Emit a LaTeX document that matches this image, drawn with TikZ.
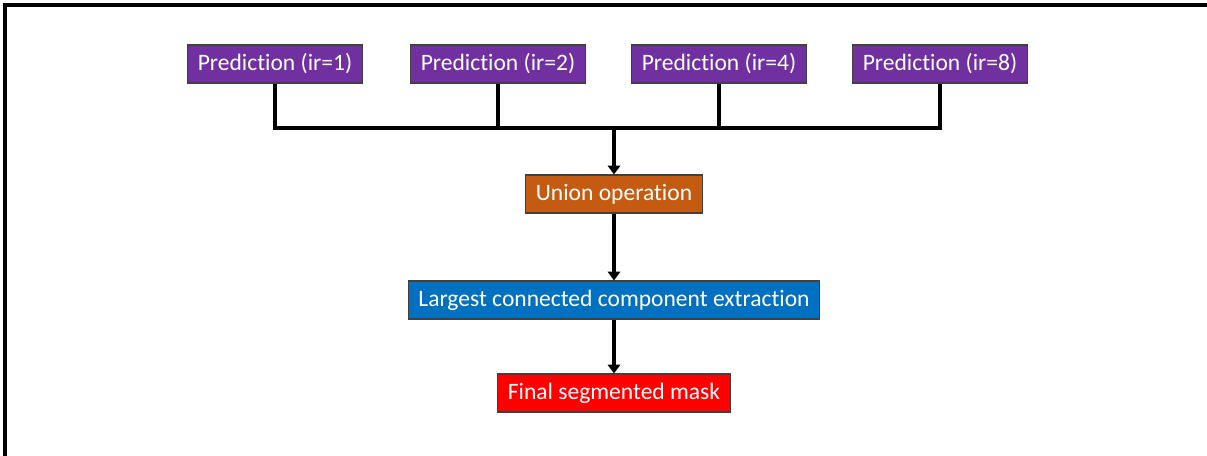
\documentclass[tikz,border=0pt]{standalone}
\usepackage{fontspec}
\setmainfont[Ligatures=NoCommon]{Carlito}
\usetikzlibrary{arrows.meta}
\definecolor{predpurple}{HTML}{7030A0}
\definecolor{unionorange}{HTML}{C55A11}
\definecolor{lccblue}{HTML}{0070C0}
\definecolor{finalred}{HTML}{FF0000}
\tikzset{
  stepbox/.style={draw=black!75, line width=0.6pt, text=white, minimum height=0.76cm,
    inner xsep=0.2cm, font=\fontsize{13.4}{15}\selectfont},
  link/.style={line width=1.8pt},
  flow/.style={line width=1.8pt, -{Triangle[length=5pt,width=7pt]}}
}
\begin{document}
\begin{tikzpicture}[x=0.02cm,y=-0.02cm]
\useasboundingbox (0,0) rectangle (1207,456);
\draw [line width=2.4pt](5,456) -- (5,5) -- (1207,5);

\node [stepbox, fill=predpurple] (p1) at (275,64) {Prediction (ir=1)};
\node [stepbox, fill=predpurple] (p2) at (498,64) {Prediction (ir=2)};
\node [stepbox, fill=predpurple] (p3) at (719,64) {Prediction (ir=4)};
\node [stepbox, fill=predpurple] (p4) at (940,64) {Prediction (ir=8)};

\coordinate (join) at (614,128);
\draw [link] (p1.south) |- (join);
\draw [link] (p4.south) |- (join);
\draw [link] (p2.south) -- (p2.south |- join);
\draw [link] (p3.south) -- (p3.south |- join);

\node [stepbox, fill=unionorange] (union) at (614,194) {Union operation};
\node [stepbox, fill=lccblue] (lcc) at (614,300) {Largest connected component extraction};
\node [stepbox, fill=finalred] (final) at (614,393) {Final segmented mask};

\draw [flow] (join) -- (union);
\draw [flow] (union) -- (lcc);
\draw [flow] (lcc) -- (final);

\end{tikzpicture}
\end{document}
